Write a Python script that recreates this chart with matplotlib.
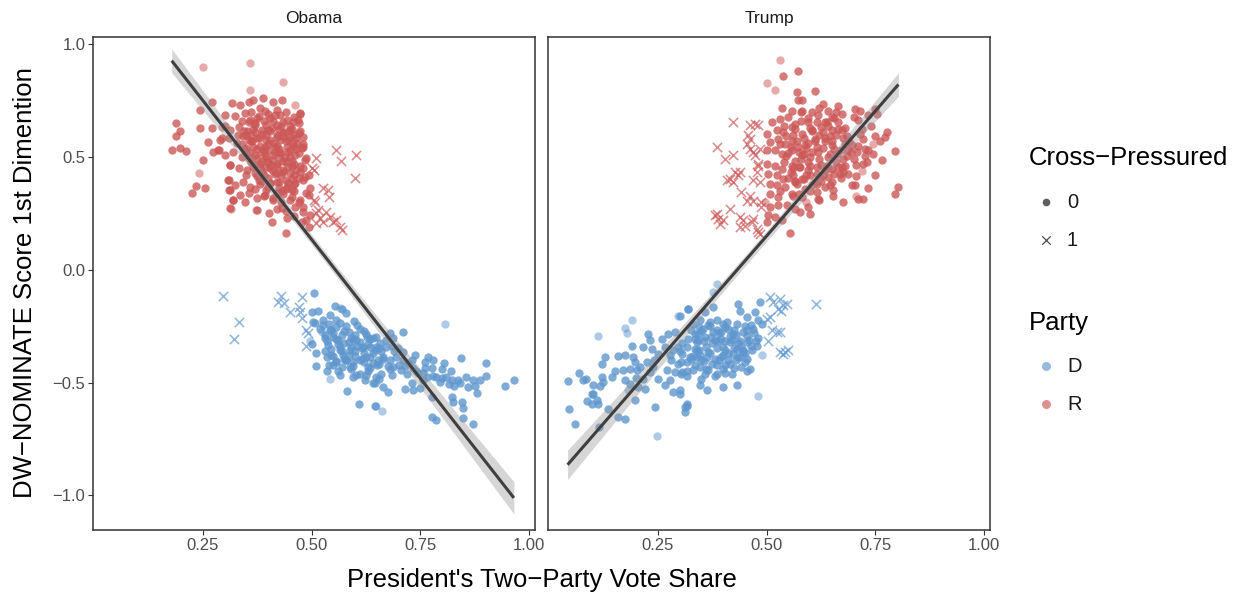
import numpy as np
import matplotlib
matplotlib.use("Agg")
import matplotlib.pyplot as plt

plt.rcParams['font.family'] = ['Liberation Sans', 'DejaVu Sans']

# ---------------------------------------------------------------------------
# Data: (vote share, DW-NOMINATE dim 1) per member, split by panel / party /
# cross-pressured status.  "light" lists hold members drawn with lower alpha.
# ---------------------------------------------------------------------------
obama_r_dots = [
    (0.316, 0.740), (0.335, 0.732), (0.355, 0.747), (0.366, 0.755), (0.389, 0.762),
    (0.412, 0.747), (0.431, 0.755), (0.301, 0.688), (0.324, 0.681),
    (0.347, 0.695), (0.359, 0.666), (0.378, 0.681), (0.393, 0.703), (0.405, 0.673),
    (0.428, 0.688), (0.443, 0.666), (0.458, 0.658), (0.474, 0.695),
    (0.313, 0.621), (0.332, 0.636), (0.351, 0.614), (0.370, 0.644), (0.385, 0.621),
    (0.408, 0.629), (0.420, 0.644), (0.435, 0.607), (0.451, 0.621), (0.470, 0.607),
    (0.290, 0.577), (0.309, 0.584), (0.328, 0.562), (0.343, 0.592), (0.362, 0.570),
    (0.378, 0.584), (0.393, 0.547), (0.412, 0.562), (0.428, 0.577), (0.443, 0.547),
    (0.466, 0.562), (0.477, 0.540), (0.286, 0.533), (0.301, 0.510), (0.320, 0.525),
    (0.339, 0.503), (0.359, 0.518), (0.374, 0.496), (0.393, 0.510), (0.408, 0.488),
    (0.424, 0.525), (0.439, 0.503), (0.462, 0.510), (0.485, 0.488), (0.313, 0.466),
    (0.332, 0.451), (0.351, 0.444), (0.370, 0.466), (0.385, 0.436), (0.405, 0.451),
    (0.420, 0.429), (0.435, 0.444), (0.454, 0.459), (0.474, 0.436), (0.493, 0.422),
    (0.309, 0.399), (0.324, 0.377), (0.343, 0.392), (0.359, 0.370), (0.378, 0.399),
    (0.405, 0.385), (0.424, 0.392), (0.443, 0.370), (0.462, 0.385), (0.481, 0.399),
    (0.497, 0.362), (0.309, 0.355), (0.320, 0.311), (0.335, 0.333), (0.355, 0.340),
    (0.374, 0.318), (0.393, 0.333), (0.412, 0.311), (0.431, 0.348), (0.454, 0.325),
    (0.474, 0.311), (0.493, 0.333), (0.313, 0.274), (0.347, 0.303), (0.374, 0.266),
    (0.401, 0.251), (0.431, 0.274), (0.462, 0.281), (0.481, 0.259), (0.497, 0.244),
    (0.408, 0.214), (0.443, 0.229), (0.477, 0.214), (0.493, 0.192), (0.441, 0.166),
    (0.270, 0.747), (0.187, 0.651), (0.197, 0.614), (0.188, 0.592), (0.178, 0.533),
    (0.197, 0.540), (0.210, 0.528), (0.243, 0.629), (0.251, 0.488), (0.234, 0.373),
    (0.225, 0.340), (0.255, 0.365), (0.243, 0.710), (0.473, 0.692), (0.469, 0.666),
    (0.473, 0.614), (0.481, 0.547), (0.488, 0.496), (0.473, 0.459), (0.485, 0.414),
    (0.488, 0.340), (0.481, 0.281), (0.488, 0.222), (0.262, 0.569), (0.274, 0.525),
    (0.270, 0.629), (0.293, 0.585), (0.285, 0.533), (0.312, 0.466), (0.308, 0.399),
    (0.312, 0.355), (0.320, 0.311), (0.300, 0.640), (0.330, 0.600), (0.360, 0.600),
    (0.395, 0.600), (0.420, 0.590), (0.450, 0.590), (0.350, 0.540), (0.400, 0.530),
    (0.450, 0.530), (0.380, 0.450), (0.420, 0.470), (0.460, 0.420), (0.350, 0.420),
    (0.400, 0.410), (0.440, 0.400), (0.370, 0.360), (0.420, 0.340), (0.460, 0.350),
    (0.360, 0.700), (0.380, 0.720), (0.400, 0.690), (0.420, 0.710), (0.440, 0.700),
    (0.460, 0.680), (0.340, 0.660), (0.370, 0.650), (0.390, 0.660), (0.410, 0.660),
    (0.430, 0.640), (0.450, 0.640), (0.470, 0.650), (0.350, 0.600), (0.370, 0.610),
    (0.400, 0.620), (0.420, 0.600), (0.440, 0.610), (0.460, 0.600), (0.480, 0.590),
    (0.340, 0.560), (0.360, 0.570), (0.380, 0.550), (0.400, 0.560), (0.420, 0.550),
    (0.440, 0.570), (0.460, 0.550), (0.480, 0.560), (0.350, 0.520), (0.370, 0.510),
    (0.390, 0.530), (0.410, 0.510), (0.430, 0.520), (0.450, 0.500), (0.470, 0.520),
    (0.360, 0.480), (0.380, 0.470), (0.400, 0.480), (0.420, 0.460), (0.440, 0.480),
    (0.460, 0.470), (0.480, 0.450), (0.370, 0.430), (0.390, 0.420), (0.410, 0.440),
    (0.430, 0.420), (0.450, 0.430), (0.470, 0.410), (0.380, 0.380), (0.400, 0.370),
    (0.420, 0.390), (0.440, 0.360), (0.460, 0.380), (0.390, 0.330), (0.410, 0.320),
    (0.430, 0.300), (0.450, 0.310), (0.470, 0.300), (0.420, 0.270), (0.440, 0.260),
    (0.460, 0.240),
    (0.355, 0.655), (0.375, 0.675), (0.395, 0.645), (0.415, 0.685), (0.435, 0.655),
    (0.455, 0.625), (0.345, 0.615), (0.365, 0.625), (0.385, 0.605), (0.405, 0.615),
    (0.425, 0.625), (0.445, 0.575), (0.465, 0.585), (0.355, 0.575), (0.375, 0.585),
    (0.395, 0.575), (0.415, 0.545), (0.435, 0.595), (0.455, 0.565), (0.345, 0.535),
    (0.365, 0.545), (0.385, 0.525), (0.405, 0.575), (0.425, 0.535), (0.445, 0.525),
    (0.465, 0.535), (0.355, 0.495), (0.375, 0.535), (0.395, 0.495), (0.415, 0.525),
    (0.435, 0.485), (0.455, 0.485), (0.365, 0.455), (0.385, 0.485), (0.405, 0.465),
    (0.425, 0.495), (0.445, 0.455), (0.465, 0.445), (0.375, 0.415), (0.395, 0.455),
    (0.415, 0.425), (0.435, 0.435), (0.455, 0.405), (0.385, 0.395), (0.405, 0.385),
    (0.425, 0.365), (0.445, 0.385), (0.395, 0.355), (0.435, 0.335), (0.455, 0.355),
]
obama_r_light = [
    (0.251, 0.902), (0.357, 0.917), (0.435, 0.833), (0.357, 0.796), (0.462, 0.732),
    (0.293, 0.636), (0.241, 0.429), (0.314, 0.269), (0.373, 0.266),
]
obama_r_cross = [
    (0.511, 0.496), (0.557, 0.530), (0.603, 0.510), (0.567, 0.481), (0.600, 0.407),
    (0.505, 0.444), (0.525, 0.363), (0.538, 0.355), (0.540, 0.325), (0.505, 0.311),
    (0.515, 0.266), (0.534, 0.259), (0.519, 0.229), (0.510, 0.207), (0.527, 0.214),
    (0.542, 0.237), (0.550, 0.214), (0.557, 0.222), (0.565, 0.192), (0.569, 0.178),
    (0.500, 0.451), (0.508, 0.303), (0.511, 0.252),
]
obama_d_dots = [
    (0.506, -0.101), (0.500, -0.185), (0.515, -0.181), (0.504, -0.229), (0.508, -0.237),
    (0.554, -0.160), (0.569, -0.174), (0.579, -0.190), (0.597, -0.225), (0.557, -0.222),
    (0.500, -0.328), (0.511, -0.370), (0.511, -0.426), (0.536, -0.388), (0.582, -0.537),
    (0.609, -0.596), (0.646, -0.604), (0.603, -0.311), (0.627, -0.296), (0.642, -0.303),
    (0.649, -0.340), (0.634, -0.385), (0.611, -0.399), (0.588, -0.429), (0.603, -0.465),
    (0.623, -0.488), (0.642, -0.503), (0.649, -0.474), (0.542, -0.266), (0.531, -0.289),
    (0.550, -0.296), (0.557, -0.252), (0.538, -0.333), (0.565, -0.340), (0.573, -0.377),
    (0.588, -0.355), (0.580, -0.399), (0.557, -0.407), (0.596, -0.407), (0.619, -0.340),
    (0.630, -0.429), (0.642, -0.414), (0.653, -0.399), (0.527, -0.222), (0.542, -0.200),
    (0.575, -0.270), (0.590, -0.300), (0.610, -0.260), (0.560, -0.310), (0.545, -0.350),
    (0.585, -0.320), (0.620, -0.370), (0.600, -0.360), (0.570, -0.430), (0.550, -0.420),
    (0.535, -0.450),
    (0.711, -0.277), (0.680, -0.281), (0.688, -0.303), (0.649, -0.296), (0.657, -0.325),
    (0.634, -0.340), (0.672, -0.340), (0.665, -0.385), (0.680, -0.399), (0.688, -0.429),
    (0.699, -0.348), (0.711, -0.363), (0.738, -0.377), (0.730, -0.399), (0.722, -0.414),
    (0.734, -0.436), (0.761, -0.436), (0.757, -0.459), (0.780, -0.399), (0.776, -0.436),
    (0.768, -0.385), (0.804, -0.411), (0.843, -0.389), (0.902, -0.411), (0.787, -0.474),
    (0.799, -0.481), (0.810, -0.474), (0.822, -0.488), (0.837, -0.488), (0.856, -0.476),
    (0.872, -0.488), (0.887, -0.488), (0.901, -0.470), (0.827, -0.515), (0.876, -0.515),
    (0.881, -0.547), (0.945, -0.515), (0.965, -0.488), (0.646, -0.503), (0.665, -0.518),
    (0.676, -0.540), (0.715, -0.528), (0.730, -0.503), (0.734, -0.531),
    (0.749, -0.525), (0.757, -0.488), (0.776, -0.562), (0.822, -0.562), (0.826, -0.585),
    (0.845, -0.585), (0.849, -0.614), (0.776, -0.651), (0.787, -0.666), (0.849, -0.656),
    (0.872, -0.684),
    (0.520, -0.260), (0.530, -0.300), (0.540, -0.240), (0.550, -0.280), (0.560, -0.330),
    (0.570, -0.290), (0.580, -0.250), (0.590, -0.340), (0.600, -0.290), (0.610, -0.320),
    (0.620, -0.270), (0.630, -0.330), (0.530, -0.360), (0.550, -0.380), (0.570, -0.360),
    (0.580, -0.400), (0.600, -0.380), (0.620, -0.410), (0.640, -0.370), (0.650, -0.420),
    (0.660, -0.360), (0.540, -0.420), (0.560, -0.450), (0.590, -0.440), (0.610, -0.460),
    (0.630, -0.450), (0.660, -0.460), (0.680, -0.440), (0.700, -0.420), (0.670, -0.310),
    (0.690, -0.360), (0.710, -0.400), (0.720, -0.460), (0.740, -0.450), (0.760, -0.410),
    (0.780, -0.470), (0.800, -0.440), (0.820, -0.450), (0.840, -0.500), (0.860, -0.520),
    (0.525, -0.245), (0.545, -0.265), (0.565, -0.235), (0.585, -0.275), (0.605, -0.245),
    (0.625, -0.285), (0.535, -0.315), (0.555, -0.305), (0.575, -0.325), (0.595, -0.305),
    (0.615, -0.345), (0.635, -0.305), (0.655, -0.345), (0.545, -0.375), (0.565, -0.355),
    (0.585, -0.375), (0.605, -0.335), (0.625, -0.385), (0.645, -0.355), (0.665, -0.395),
    (0.555, -0.405), (0.575, -0.395), (0.595, -0.425), (0.615, -0.395), (0.635, -0.435),
    (0.655, -0.415), (0.675, -0.425), (0.565, -0.465), (0.595, -0.475), (0.625, -0.465),
    (0.655, -0.485), (0.685, -0.465), (0.705, -0.445), (0.695, -0.385), (0.715, -0.425),
    (0.745, -0.455), (0.765, -0.475), (0.795, -0.495), (0.815, -0.505), (0.685, -0.335),
]
obama_d_light = [
    (0.807, -0.241), (0.523, -0.274), (0.565, -0.169), (0.496, -0.314), (0.542, -0.485),
    (0.649, -0.604), (0.661, -0.624),
]
obama_d_cross = [
    (0.295, -0.114), (0.333, -0.232), (0.321, -0.306), (0.429, -0.114), (0.423, -0.143),
    (0.436, -0.148), (0.450, -0.185), (0.477, -0.119), (0.471, -0.163), (0.473, -0.185),
    (0.477, -0.214), (0.488, -0.266), (0.492, -0.281), (0.488, -0.337),
]

trump_d_dots = [
    (0.320, -0.172), (0.226, -0.283), (0.232, -0.312), (0.216, -0.342), (0.236, -0.349),
    (0.259, -0.305), (0.274, -0.283), (0.289, -0.275), (0.266, -0.342), (0.251, -0.371),
    (0.278, -0.379), (0.297, -0.342), (0.305, -0.371), (0.316, -0.408), (0.297, -0.416),
    (0.324, -0.386), (0.339, -0.357), (0.335, -0.283), (0.190, -0.335), (0.128, -0.386),
    (0.121, -0.416), (0.159, -0.383), (0.174, -0.379), (0.193, -0.386), (0.197, -0.408),
    (0.209, -0.431), (0.224, -0.408), (0.239, -0.431), (0.232, -0.453), (0.216, -0.482),
    (0.201, -0.445), (0.186, -0.438), (0.170, -0.445), (0.174, -0.490), (0.186, -0.505),
    (0.205, -0.519), (0.220, -0.527), (0.069, -0.457), (0.078, -0.490), (0.084, -0.482),
    (0.100, -0.512), (0.121, -0.475), (0.124, -0.497), (0.144, -0.475), (0.117, -0.516),
    (0.042, -0.493), (0.098, -0.549), (0.086, -0.583), (0.109, -0.578), (0.113, -0.593),
    (0.098, -0.593), (0.045, -0.615), (0.059, -0.685), (0.136, -0.615), (0.159, -0.652),
    (0.174, -0.660), (0.197, -0.578), (0.115, -0.697), (0.243, -0.608), (0.251, -0.482),
    (0.266, -0.512), (0.278, -0.490), (0.285, -0.541), (0.301, -0.534), (0.312, -0.608),
    (0.316, -0.596), (0.270, -0.445), (0.289, -0.453), (0.305, -0.453), (0.316, -0.468),
    (0.331, -0.445), (0.339, -0.386), (0.343, -0.312),
    (0.320, -0.172), (0.301, -0.202), (0.358, -0.187), (0.377, -0.162), (0.435, -0.150),
    (0.439, -0.180), (0.454, -0.209), (0.473, -0.187), (0.485, -0.143), (0.481, -0.224),
    (0.489, -0.239), (0.469, -0.261), (0.454, -0.268), (0.431, -0.239), (0.423, -0.283),
    (0.347, -0.224), (0.370, -0.231), (0.385, -0.224), (0.400, -0.239), (0.408, -0.231),
    (0.354, -0.261), (0.377, -0.276), (0.396, -0.276), (0.343, -0.283), (0.358, -0.298),
    (0.373, -0.298), (0.389, -0.313), (0.404, -0.313), (0.416, -0.320), (0.439, -0.313),
    (0.454, -0.320), (0.477, -0.335), (0.466, -0.357), (0.446, -0.357),
    (0.431, -0.350), (0.320, -0.305), (0.316, -0.342), (0.335, -0.350), (0.347, -0.379),
    (0.362, -0.386), (0.381, -0.394), (0.400, -0.379), (0.412, -0.401), (0.423, -0.372),
    (0.439, -0.386), (0.450, -0.409), (0.462, -0.438), (0.454, -0.446), (0.404, -0.423),
    (0.385, -0.423), (0.347, -0.431), (0.358, -0.460), (0.335, -0.423), (0.316, -0.446),
    (0.304, -0.409), (0.350, -0.483), (0.347, -0.512), (0.362, -0.534), (0.400, -0.517),
    (0.431, -0.512), (0.385, -0.460), (0.316, -0.601), (0.312, -0.630), (0.301, -0.549),
    (0.304, -0.460),
    (0.330, -0.240), (0.350, -0.270), (0.370, -0.250), (0.390, -0.280), (0.410, -0.260),
    (0.430, -0.290), (0.450, -0.250), (0.470, -0.280), (0.340, -0.320), (0.360, -0.340),
    (0.380, -0.310), (0.400, -0.340), (0.420, -0.310), (0.440, -0.340), (0.460, -0.310),
    (0.480, -0.300), (0.330, -0.380), (0.350, -0.400), (0.370, -0.370), (0.390, -0.400),
    (0.410, -0.370), (0.430, -0.400), (0.450, -0.370), (0.360, -0.440), (0.380, -0.470),
    (0.400, -0.440), (0.420, -0.460), (0.440, -0.430), (0.300, -0.360), (0.280, -0.400),
    (0.240, -0.400), (0.200, -0.480), (0.150, -0.450), (0.100, -0.550),
    (0.345, -0.255), (0.365, -0.245), (0.385, -0.265), (0.405, -0.255), (0.425, -0.265),
    (0.445, -0.275), (0.465, -0.245), (0.335, -0.305), (0.355, -0.315), (0.375, -0.325),
    (0.395, -0.305), (0.415, -0.295), (0.435, -0.325), (0.455, -0.295), (0.475, -0.315),
    (0.345, -0.355), (0.365, -0.365), (0.385, -0.345), (0.405, -0.355), (0.425, -0.345),
    (0.445, -0.365), (0.465, -0.335), (0.355, -0.405), (0.375, -0.415), (0.395, -0.385),
    (0.415, -0.415), (0.435, -0.385), (0.455, -0.395), (0.365, -0.445), (0.405, -0.455),
    (0.425, -0.435), (0.325, -0.395), (0.325, -0.265), (0.305, -0.325), (0.285, -0.355),
]
trump_d_light = [
    (0.297, -0.202), (0.190, -0.221), (0.174, -0.256), (0.178, -0.280), (0.111, -0.293),
    (0.180, -0.534), (0.247, -0.734), (0.385, -0.064), (0.377, -0.098), (0.489, -0.379),
    (0.481, -0.557),
]
trump_d_cross = [
    (0.508, -0.121), (0.515, -0.143), (0.531, -0.128), (0.538, -0.157), (0.527, -0.172),
    (0.546, -0.150), (0.534, -0.180), (0.500, -0.217), (0.508, -0.209), (0.512, -0.268),
    (0.523, -0.276), (0.531, -0.276), (0.504, -0.313), (0.531, -0.364), (0.542, -0.364),
    (0.538, -0.372), (0.550, -0.357), (0.613, -0.150),
]
trump_r_dots = [
    (0.538, 0.862), (0.573, 0.882), (0.569, 0.789), (0.610, 0.792),
    (0.571, 0.752), (0.581, 0.752), (0.630, 0.737), (0.665, 0.729), (0.703, 0.715),
    (0.715, 0.707), (0.749, 0.715), (0.535, 0.719), (0.558, 0.707), (0.581, 0.707),
    (0.604, 0.700), (0.619, 0.685), (0.642, 0.707), (0.650, 0.678), (0.673, 0.692),
    (0.753, 0.692), (0.512, 0.656), (0.531, 0.670), (0.550, 0.678), (0.565, 0.648),
    (0.596, 0.656), (0.615, 0.656), (0.638, 0.656), (0.665, 0.656), (0.711, 0.663),
    (0.734, 0.685), (0.500, 0.604), (0.523, 0.619), (0.538, 0.611), (0.558, 0.633),
    (0.581, 0.604), (0.604, 0.619), (0.630, 0.611), (0.650, 0.619), (0.673, 0.622),
    (0.719, 0.626), (0.749, 0.596), (0.776, 0.611), (0.772, 0.589), (0.508, 0.567),
    (0.527, 0.582), (0.542, 0.560), (0.558, 0.574), (0.573, 0.545), (0.588, 0.552),
    (0.611, 0.574), (0.634, 0.574), (0.650, 0.552), (0.680, 0.560), (0.696, 0.552),
    (0.722, 0.582), (0.726, 0.537), (0.500, 0.530), (0.519, 0.530), (0.535, 0.515),
    (0.558, 0.530), (0.581, 0.508), (0.600, 0.500), (0.619, 0.523), (0.642, 0.500),
    (0.661, 0.515), (0.688, 0.530), (0.707, 0.523), (0.734, 0.530), (0.745, 0.515),
    (0.765, 0.486), (0.795, 0.526), (0.500, 0.471), (0.519, 0.463), (0.535, 0.449),
    (0.558, 0.463), (0.577, 0.456), (0.596, 0.478), (0.615, 0.456), (0.638, 0.463),
    (0.650, 0.449), (0.676, 0.493), (0.673, 0.456), (0.722, 0.471), (0.504, 0.427),
    (0.523, 0.419), (0.538, 0.404), (0.561, 0.419), (0.581, 0.404), (0.600, 0.419),
    (0.623, 0.412), (0.642, 0.412), (0.669, 0.427), (0.688, 0.427), (0.508, 0.382),
    (0.523, 0.375), (0.542, 0.367), (0.565, 0.390), (0.588, 0.360), (0.615, 0.382),
    (0.634, 0.367), (0.653, 0.353), (0.696, 0.375), (0.703, 0.375), (0.732, 0.363),
    (0.803, 0.370), (0.795, 0.338), (0.508, 0.338), (0.527, 0.323), (0.558, 0.338),
    (0.581, 0.323), (0.619, 0.316), (0.653, 0.330), (0.676, 0.301), (0.711, 0.316),
    (0.722, 0.316), (0.508, 0.279), (0.527, 0.286), (0.546, 0.286), (0.565, 0.271),
    (0.596, 0.279), (0.577, 0.257), (0.600, 0.249), (0.504, 0.242), (0.500, 0.212),
    (0.519, 0.234), (0.535, 0.220), (0.554, 0.163),
    (0.540, 0.640), (0.560, 0.600), (0.580, 0.660), (0.600, 0.630), (0.620, 0.600),
    (0.640, 0.640), (0.660, 0.600), (0.680, 0.630), (0.530, 0.560), (0.550, 0.520),
    (0.570, 0.570), (0.590, 0.540), (0.610, 0.580), (0.630, 0.540), (0.650, 0.570),
    (0.670, 0.530), (0.690, 0.570), (0.710, 0.550), (0.540, 0.480), (0.560, 0.450),
    (0.580, 0.490), (0.600, 0.460), (0.620, 0.490), (0.640, 0.450), (0.660, 0.480),
    (0.680, 0.460), (0.700, 0.490), (0.550, 0.410), (0.570, 0.380), (0.590, 0.420),
    (0.610, 0.390), (0.630, 0.420), (0.650, 0.390), (0.670, 0.410), (0.530, 0.350),
    (0.560, 0.330), (0.600, 0.350), (0.620, 0.310), (0.580, 0.700), (0.620, 0.720),
    (0.660, 0.700), (0.700, 0.680), (0.740, 0.640), (0.760, 0.570), (0.730, 0.480),
    (0.750, 0.420),
    (0.545, 0.595), (0.565, 0.625), (0.585, 0.585), (0.605, 0.615), (0.625, 0.635),
    (0.645, 0.595), (0.665, 0.625), (0.685, 0.595), (0.555, 0.545), (0.575, 0.525),
    (0.595, 0.565), (0.615, 0.545), (0.635, 0.585), (0.655, 0.535), (0.675, 0.585),
    (0.695, 0.525), (0.545, 0.505), (0.565, 0.485), (0.585, 0.515), (0.605, 0.525),
    (0.625, 0.465), (0.645, 0.515), (0.665, 0.455), (0.685, 0.505), (0.705, 0.465),
    (0.555, 0.435), (0.575, 0.455), (0.595, 0.445), (0.615, 0.425), (0.635, 0.445),
    (0.655, 0.425), (0.675, 0.435), (0.565, 0.395), (0.585, 0.405), (0.605, 0.375),
    (0.625, 0.395), (0.645, 0.375), (0.575, 0.335), (0.615, 0.345), (0.635, 0.655),
    (0.595, 0.675), (0.655, 0.675), (0.715, 0.605), (0.725, 0.505), (0.705, 0.415),
]
trump_r_light = [
    (0.531, 0.932), (0.500, 0.830), (0.519, 0.800), (0.745, 0.560), (0.720, 0.440),
    (0.705, 0.330), (0.590, 0.300), (0.495, 0.300),
]
trump_r_cross = [
    (0.423, 0.656), (0.462, 0.641), (0.473, 0.648), (0.481, 0.641), (0.385, 0.545),
    (0.404, 0.493), (0.423, 0.508), (0.454, 0.560), (0.462, 0.537), (0.469, 0.523),
    (0.458, 0.597), (0.462, 0.582), (0.473, 0.508), (0.485, 0.537), (0.481, 0.471),
    (0.427, 0.434), (0.439, 0.434), (0.435, 0.419), (0.408, 0.397), (0.416, 0.404),
    (0.423, 0.390), (0.477, 0.434), (0.469, 0.397), (0.485, 0.390), (0.481, 0.463),
    (0.442, 0.345), (0.462, 0.330), (0.454, 0.308), (0.469, 0.308), (0.488, 0.301),
    (0.488, 0.279), (0.381, 0.242), (0.389, 0.227), (0.416, 0.271), (0.393, 0.205),
    (0.439, 0.234), (0.446, 0.220), (0.466, 0.212), (0.469, 0.227), (0.439, 0.190),
    (0.450, 0.197), (0.477, 0.183), (0.481, 0.168), (0.485, 0.160), (0.385, 0.249),
    (0.400, 0.220),
]

panels = ["Obama", "Trump"]
party_labels = ["D", "R"]
cross_labels = ["0", "1"]
x_ticks = [0.25, 0.50, 0.75, 1.00]
x_tick_labels = ["0.25", "0.50", "0.75", "1.00"]
y_ticks = [-1.0, -0.5, 0.0, 0.5, 1.0]
y_tick_labels = ["\u22121.0", "\u22120.5", "0.0", "0.5", "1.0"]

panel_data = {
    "Obama": {"D": (obama_d_dots, obama_d_light, obama_d_cross),
              "R": (obama_r_dots, obama_r_light, obama_r_cross)},
    "Trump": {"D": (trump_d_dots, trump_d_light, trump_d_cross),
              "R": (trump_r_dots, trump_r_light, trump_r_cross)},
}

# ---------------------------------------------------------------------------
# Styling
# ---------------------------------------------------------------------------
party_colors = {"D": "#5F96CE", "R": "#CC5757"}
frame_color = "#333333"
text_color = "#1A1A1A"
tick_label_color = "#4D4D4D"
W, H = 1239, 596
DOT_S = 36
CROSS_S = 44


def xy(points):
    arr = np.asarray(points, dtype=float)
    return arr[:, 0], arr[:, 1]


def lm_fit(x, y, grid):
    """OLS line with 95% confidence band, as geom_smooth(method='lm')."""
    n = len(x)
    slope, intercept = np.polyfit(x, y, 1)
    resid = y - (intercept + slope * x)
    s = np.sqrt(np.sum(resid ** 2) / (n - 2))
    sxx = np.sum((x - x.mean()) ** 2)
    fit = intercept + slope * grid
    se = s * np.sqrt(1.0 / n + (grid - x.mean()) ** 2 / sxx)
    return fit, fit - 1.97 * se, fit + 1.97 * se


fig = plt.figure(figsize=(W / 100, H / 100), dpi=100)

panel_px = {"Obama": (93, 535), "Trump": (548, 990)}
top_px, bottom_px = 37, 530

for name in panels:
    l, r = panel_px[name]
    ax = fig.add_axes([l / W, 1 - bottom_px / H, (r - l) / W, (bottom_px - top_px) / H])
    all_x, all_y = [], []
    for party in party_labels:
        dots, light, cross = panel_data[name][party]
        col = party_colors[party]
        dx, dy = xy(dots)
        lx, ly = xy(light)
        cx, cy = xy(cross)
        ax.scatter(dx, dy, s=DOT_S, color=col, alpha=0.8, linewidths=0, zorder=2)
        ax.scatter(lx, ly, s=DOT_S, color=col, alpha=0.5, linewidths=0, zorder=2)
        ax.scatter(cx, cy, s=CROSS_S, color=col, alpha=0.7, marker="x",
                   linewidths=1.1, zorder=2)
        all_x += [dx, lx, cx]
        all_y += [dy, ly, cy]
    ax_x = np.concatenate(all_x)
    ax_y = np.concatenate(all_y)
    grid = np.linspace(ax_x.min(), ax_x.max(), 100)
    fit, lo, hi = lm_fit(ax_x, ax_y, grid)
    ax.fill_between(grid, lo, hi, color="#999999", alpha=0.4, linewidth=0, zorder=3)
    ax.plot(grid, fit, color="#3F3F3F", linewidth=2.2, zorder=4, solid_capstyle="butt")

    ax.set_xlim(-0.003, 1.0136)
    ax.set_ylim(-1.153, 1.033)
    ax.set_xticks(x_ticks)
    ax.set_xticklabels(x_tick_labels)
    if name == "Obama":
        ax.set_yticks(y_ticks)
        ax.set_yticklabels(y_tick_labels)
    else:
        ax.set_yticks([])
    ax.tick_params(colors=frame_color, labelcolor=tick_label_color, labelsize=12,
                   length=3.5, width=0.8, pad=2)
    for sp in ax.spines.values():
        sp.set_color(frame_color)
        sp.set_linewidth(1.1)
    ax.set_title(name, fontsize=12.5, color=text_color, pad=10)

# Axis titles
fig.text((93 + 990) / 2 / W, 1 - 580 / H, "President's Two\u2212Party Vote Share",
         ha="center", va="center", fontsize=18.5, color="black")
fig.text(25 / W, 1 - 283 / H, "DW\u2212NOMINATE Score 1st Dimention",
         ha="center", va="center", rotation=90, fontsize=18.5, color="black")

# Legends (drawn in figure pixel space)
leg = fig.add_axes([0, 0, 1, 1], facecolor="none")
leg.set_xlim(0, W)
leg.set_ylim(H, 0)
leg.axis("off")

leg.text(1029, 158, "Cross\u2212Pressured", ha="left", va="center", fontsize=18.5,
         color="black")
leg.scatter([1046], [202], s=30, color="#4D4D4D", alpha=0.9, linewidths=0)
leg.scatter([1046], [240], s=38, color="#4D4D4D", marker="x", linewidths=0.9)
for lab, yy in zip(cross_labels, [202, 240]):
    leg.text(1067, yy, lab, ha="left", va="center", fontsize=14.5, color=text_color)

leg.text(1029, 323, "Party", ha="left", va="center", fontsize=18.5, color="black")
for lab, yy in zip(party_labels, [366, 404]):
    leg.scatter([1046], [yy], s=42, color=party_colors[lab], alpha=0.65, linewidths=0)
    leg.text(1067, yy, lab, ha="left", va="center", fontsize=14.5, color=text_color)

fig.savefig("out.png", dpi=100)
